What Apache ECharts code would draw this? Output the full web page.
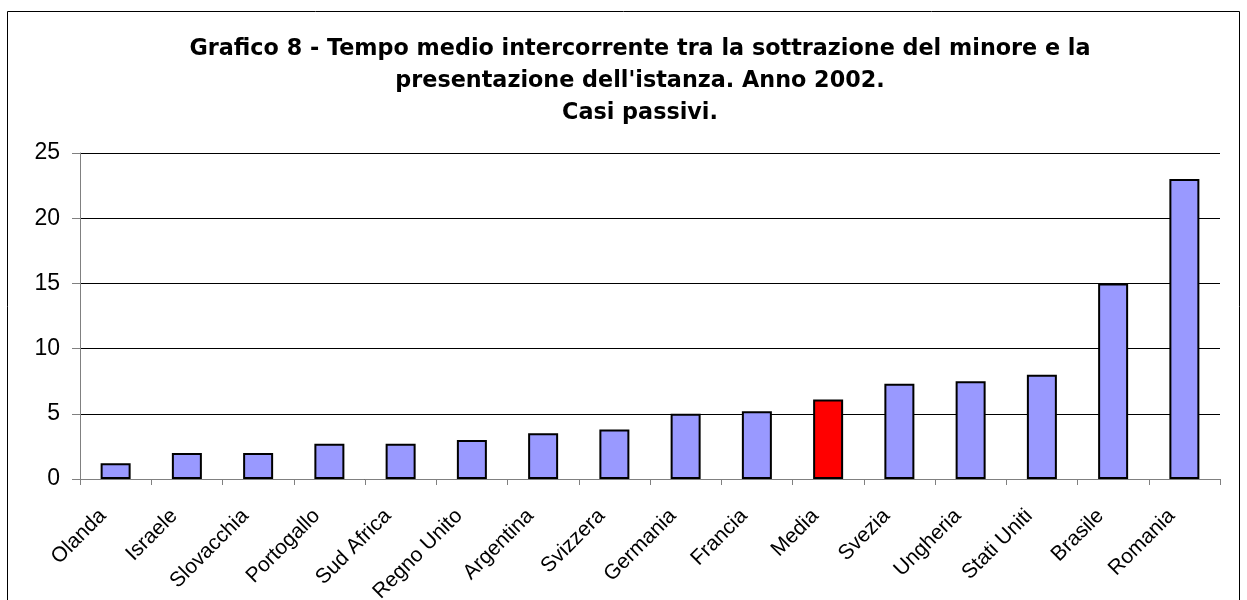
<!DOCTYPE html>
<html>
<head>
<meta charset="utf-8">
<script src="https://cdn.jsdelivr.net/npm/echarts@6/dist/echarts.min.js"></script>
<style>
  html, body { margin: 0; padding: 0; background: #fff; }
  #chart { width: 1247px; height: 600px; }
</style>
</head>
<body>
<div id="chart"></div>
<script>
// dati
const paesi = ['Olanda', 'Israele', 'Slovacchia', 'Portogallo', 'Sud Africa', 'Regno Unito',
  'Argentina', 'Svizzera', 'Germania', 'Francia', 'Media', 'Svezia', 'Ungheria',
  'Stati Uniti', 'Brasile', 'Romania']
const mesi = [1.2, 2, 2, 2.7, 2.7, 3, 3.5, 3.8, 5, 5.2, 6.1, 7.3, 7.5, 8, 15, 23]
const evidenziato = 'Media'
const titolo = "Grafico 8 - Tempo medio intercorrente tra la sottrazione del minore e la\npresentazione dell'istanza. Anno 2002.\nCasi passivi."

const chart = echarts.init(document.getElementById('chart'))

const option = {
  animation: false,
  textStyle: { fontFamily: 'Liberation Sans, Arial, sans-serif' },
  graphic: [{
    type: 'rect',
    shape: { x: 7.5, y: 11.5, width: 1232, height: 620 },
    style: { fill: 'none', stroke: '#000', lineWidth: 1 },
    silent: true
  }],
  title: {
    text: titolo,
    left: 635,
    top: 28,
    textAlign: 'center',
    textStyle: {
      fontSize: 22.3,
      fontWeight: 'bold',
      color: '#000',
      lineHeight: 32,
      align: 'center',
      fontFamily: 'DejaVu Sans, sans-serif'
    }
  },
  grid: { left: 80, right: 27, top: 153, height: 326, containLabel: false, outerBoundsMode: 'none' },
  xAxis: {
    type: 'category',
    data: paesi,
    axisLine: { lineStyle: { color: '#808080', width: 1 } },
    axisTick: { show: true, length: 6, lineStyle: { color: '#808080' } },
    axisLabel: { rotate: 45, fontSize: 21, color: '#000', margin: 21, padding: [0, 18, 0, 0], interval: 0 }
  },
  yAxis: {
    type: 'value',
    min: 0,
    max: 25,
    interval: 5,
    axisLine: { show: true, lineStyle: { color: '#808080', width: 1 } },
    axisTick: { show: true, length: 8, lineStyle: { color: '#808080' } },
    axisLabel: { fontSize: 23, color: '#000', margin: 20 },
    splitLine: { lineStyle: { color: '#000', width: 1 } }
  },
  series: [{
    type: 'bar',
    barWidth: 30,
    data: mesi.map((v, i) => ({
      value: v,
      itemStyle: { color: paesi[i] === evidenziato ? '#FF0000' : '#9999FF' }
    })),
    itemStyle: { borderColor: '#000', borderWidth: 2 }
  }]
}

chart.setOption(option)
</script>
</body>
</html>
